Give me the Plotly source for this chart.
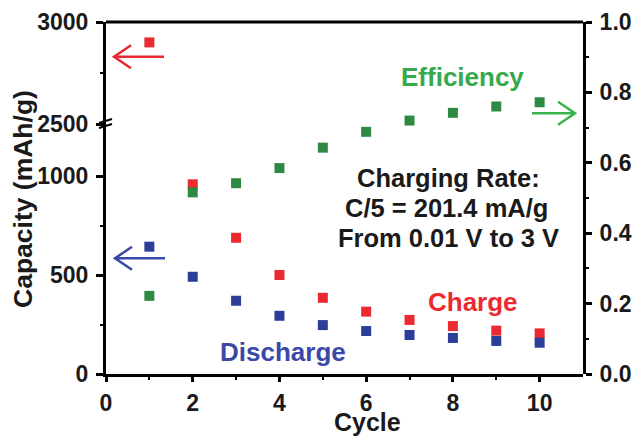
import numpy as np
import plotly.graph_objects as go

# ---- data ----
cycles = [1, 2, 3, 4, 5, 6, 7, 8, 9, 10]
charge = [2900, 958, 688, 500, 385, 315, 273, 242, 219, 205]
discharge = [643, 491, 370, 294, 247, 217, 197, 182, 167, 158]
efficiency = [0.222, 0.516, 0.542, 0.585, 0.643, 0.688, 0.720, 0.742, 0.760, 0.772]

lower_ticks = [0, 500, 1000]
upper_ticks = [2500, 3000]
x_ticks = [0, 2, 4, 6, 8, 10]
eff_ticks = [0.0, 0.2, 0.4, 0.6, 0.8, 1.0]

# ---- layout geometry ----
W, H = 635, 438
L, R, T, B = 106, 52, 22, 64
PW, PH = W - L - R, H - T - B
BREAK_PX = 124
LOWER_MAX = 1262.6
UPPER_RANGE = [2500, 3000]


def px(p):
    return (p - L) / PW


def py(p):
    return (H - B - p) / PH


split = py(BREAK_PX)

RED = "#ea2a30"
BLUE = "#2c3e9a"
DGREEN = "#2e8a42"
LGREEN = "#36a94c"
FONT = "Liberation Sans, Arial, sans-serif"

c = np.array(charge, dtype=float)
x = np.array(cycles)
lo = c <= LOWER_MAX

fig = go.Figure()
mk = dict(symbol="square", size=10, line=dict(width=0))
fig.add_trace(go.Scatter(x=x[lo], y=c[lo], mode="markers", marker=dict(color=RED, **mk),
                         xaxis="x", yaxis="y", name="Charge", cliponaxis=False))
fig.add_trace(go.Scatter(x=x[~lo], y=c[~lo], mode="markers", marker=dict(color=RED, **mk),
                         xaxis="x", yaxis="y2", name="Charge (high)", cliponaxis=False))
fig.add_trace(go.Scatter(x=cycles, y=discharge, mode="markers", marker=dict(color=BLUE, **mk),
                         xaxis="x", yaxis="y", name="Discharge", cliponaxis=False))
fig.add_trace(go.Scatter(x=cycles, y=efficiency, mode="markers", marker=dict(color=DGREEN, **mk),
                         xaxis="x", yaxis="y3", name="Efficiency", cliponaxis=False))

tickfont = dict(family=FONT, size=23, color="#1a1a1a", weight="bold")
axis_common = dict(showline=True, linecolor="black", linewidth=3, ticks="outside",
                   tickcolor="black", tickwidth=2.5, showgrid=False, zeroline=False,
                   tickfont=tickfont, automargin=False)

fig.update_layout(
    width=W, height=H,
    margin=dict(l=L, r=R, t=T, b=B),
    paper_bgcolor="white", plot_bgcolor="rgba(0,0,0,0)",
    showlegend=False,
    xaxis=dict(range=[0, 11], tickvals=x_ticks, ticklen=5, anchor="y",
               minor=dict(tickvals=[1, 3, 5, 7, 9], ticklen=3, tickwidth=2, tickcolor="black", ticks="outside"),
               ticklabelstandoff=1, **axis_common),
    yaxis=dict(domain=[0, split], range=[0, LOWER_MAX], tickvals=lower_ticks, ticklen=7,
               anchor="x", ticklabelstandoff=3,
               minor=dict(tickvals=[250, 750], ticklen=3, tickwidth=2, tickcolor="black", ticks="outside"),
               **axis_common),
    yaxis2=dict(domain=[split, 1], range=UPPER_RANGE, tickvals=upper_ticks, ticklen=7,
                anchor="x", ticklabelstandoff=3,
                minor=dict(tickvals=[2750], ticklen=3, tickwidth=2, tickcolor="black", ticks="outside"),
                **axis_common),
    yaxis3=dict(domain=[0, 1], range=[0, 1], tickvals=eff_ticks, tickformat=".1f", ticklen=6,
                anchor="x", side="right", ticklabelstandoff=3,
                minor=dict(tickvals=[0.1, 0.3, 0.5, 0.7, 0.9], ticklen=3, tickwidth=2, tickcolor="black", ticks="outside"),
                **axis_common),
)

shapes = []
# top frame line
shapes.append(dict(type="line", xref="paper", yref="paper", x0=0, x1=1, y0=1, y1=1,
                   line=dict(color="black", width=3)))
# axis break marks
for dy in (0, 5):
    shapes.append(dict(type="line", xref="paper", yref="paper",
                       x0=px(99), y0=py(BREAK_PX - 1 + dy), x1=px(112), y1=py(BREAK_PX - 5 + dy),
                       line=dict(color="black", width=2)))


def arrow(x_tail, x_tip, yy, color):
    d = 17 if x_tip < x_tail else -17
    path = (f"M {px(x_tail)},{py(yy)} L {px(x_tip)},{py(yy)} "
            f"M {px(x_tip + d)},{py(yy - 11.5)} L {px(x_tip)},{py(yy)} L {px(x_tip + d)},{py(yy + 11.5)}")
    return dict(type="path", xref="paper", yref="paper", path=path,
                line=dict(color=color, width=2.5))


shapes.append(arrow(164, 114, 56.7, RED))
shapes.append(arrow(165, 115, 258.3, "#3b4aa8"))
shapes.append(arrow(532, 575, 113.3, "#3bb34c"))
fig.update_layout(shapes=shapes)


def ann(text, xp, yp, color, size=24, angle=0, yanchor="middle"):
    return dict(text=text, x=px(xp), y=py(yp), xref="paper", yref="paper",
                xanchor="center", yanchor=yanchor, showarrow=False, textangle=angle,
                borderpad=0,
                font=dict(family=FONT, size=size, color=color, weight="bold"))


fig.update_layout(annotations=[
    ann("Efficiency", 462, 77, LGREEN, 26),
    ann("Charging Rate:", 448, 178, "#1a1a1a", 25.5),
    ann("C/5 = 201.4 mA/g", 446, 208, "#1a1a1a", 25.5),
    ann("From 0.01 V to 3 V", 448, 238.5, "#1a1a1a", 25.5),
    ann("Charge", 473, 302, RED, 26),
    ann("Discharge", 283, 352, "#3b48a8", 26),
    ann("Cycle", 367, 437, "#1a1a1a", 25, yanchor="bottom"),
    ann("Capacity (mAh/g)", 23, 199, "#1a1a1a", 26.5, -90),
])

fig.write_html("out.html", config={"displayModeBar": False},
               post_script="document.body.style.margin='0';")
